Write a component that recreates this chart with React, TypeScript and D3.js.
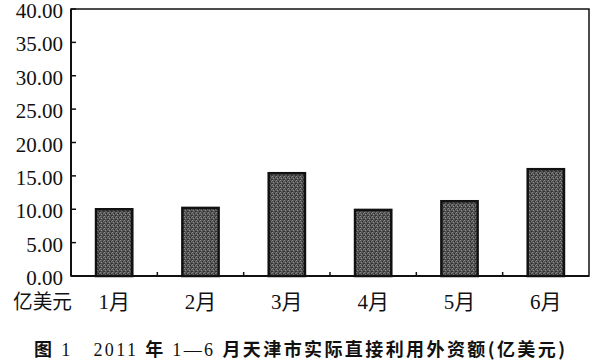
import React from "react";
import * as d3 from "d3";

const months = ["1月", "2月", "3月", "4月", "5月", "6月"];
const values = [10.0, 10.2, 15.4, 9.9, 11.2, 16.0];
const yTicks = [0, 5, 10, 15, 20, 25, 30, 35, 40];
const unitLabel = "亿美元";
const captionParts = [
  { t: "图", kind: "cjk" },
  { t: " 1   ", kind: "serif" },
  { t: "2011 ", kind: "serif" },
  { t: "年 ", kind: "cjk" },
  { t: "1—6 ", kind: "serif" },
  { t: "月天津市实际直接利用外资额(亿美元)", kind: "cjk" },
];

export default function App() {
  const W = 597, H = 360;
  const left = 71, right = 589, top = 9, bottom = 276;
  const x = d3.scaleBand<string>().domain(months).range([left, right]).paddingInner(0.58).paddingOuter(0.29);
  const y = d3.scaleLinear().domain([0, 40]).range([bottom, top]);
  const step = (right - left) / months.length;
  const serif = "'Liberation Serif', 'DejaVu Serif', serif";
  const cjkSerif = "'Liberation Serif', 'Noto Sans CJK SC', serif";
  const cjk = "'Noto Sans CJK SC', sans-serif";
  return (
    <svg width={W} height={H} style={{ position: "absolute", left: 0, top: 0, background: "#fff" }}>
      <defs>
        <pattern id="grain" width="4" height="4" patternUnits="userSpaceOnUse">
          <rect width="4" height="4" fill="#555" />
          <rect x="0" y="0" width="1" height="1" fill="#8a8a8a" />
          <rect x="2" y="1" width="1" height="1" fill="#2a2a2a" />
          <rect x="1" y="2" width="1" height="1" fill="#909090" />
          <rect x="3" y="3" width="1" height="1" fill="#303030" />
          <rect x="3" y="1" width="1" height="1" fill="#777" />
          <rect x="0" y="3" width="1" height="1" fill="#3a3a3a" />
        </pattern>
      </defs>
      {/* frame */}
      <rect x={left} y={top} width={right - left} height={bottom - top} fill="none" stroke="#111" strokeWidth={1.5} />
      <line x1={left} x2={right} y1={bottom} y2={bottom} stroke="#111" strokeWidth={2} />
      <line x1={left} x2={left} y1={top} y2={bottom} stroke="#111" strokeWidth={2} />
      {/* y ticks */}
      {yTicks.map((t) => (
        <g key={t}>
          <line x1={left} x2={left + 5} y1={y(t)} y2={y(t)} stroke="#111" strokeWidth={1.5} />
          <text x={63} y={y(t) + 9} textAnchor="end" style={{ fontFamily: serif, fontSize: 21 }} fill="#111">
            {d3.format(".2f")(t)}
          </text>
        </g>
      ))}
      {/* x ticks between categories */}
      {months.slice(1).map((m, i) => (
        <line key={m} x1={left + step * (i + 1)} x2={left + step * (i + 1)} y1={bottom} y2={bottom - 4} stroke="#111" strokeWidth={1.5} />
      ))}
      {/* bars */}
      {months.map((m, i) => (
        <rect key={m} x={x(m)} y={y(values[i])} width={x.bandwidth()} height={bottom - y(values[i])}
          fill="url(#grain)" stroke="#111" strokeWidth={2.5} />
      ))}
      {/* x labels */}
      {months.map((m) => (
        <text key={m} x={(x(m) as number) + x.bandwidth() / 2} y={309} textAnchor="middle" style={{ fontFamily: cjkSerif, fontSize: 21 }} fill="#111">
          {m}
        </text>
      ))}
      <text x={13} y={309} textLength={59} lengthAdjust="spacingAndGlyphs" style={{ fontFamily: cjkSerif, fontSize: 20 }} fill="#111">{unitLabel}</text>
      <text x={34} y={356} textLength={531} lengthAdjust="spacing" style={{ whiteSpace: "pre", fontSize: 18 }} fill="#111">
        {captionParts.map((p, i) => (
          <tspan key={i} style={{ fontFamily: p.kind === "cjk" ? cjk : serif, fontWeight: p.kind === "cjk" ? 700 : 400 }}>{p.t}</tspan>
        ))}
      </text>
    </svg>
  );
}
